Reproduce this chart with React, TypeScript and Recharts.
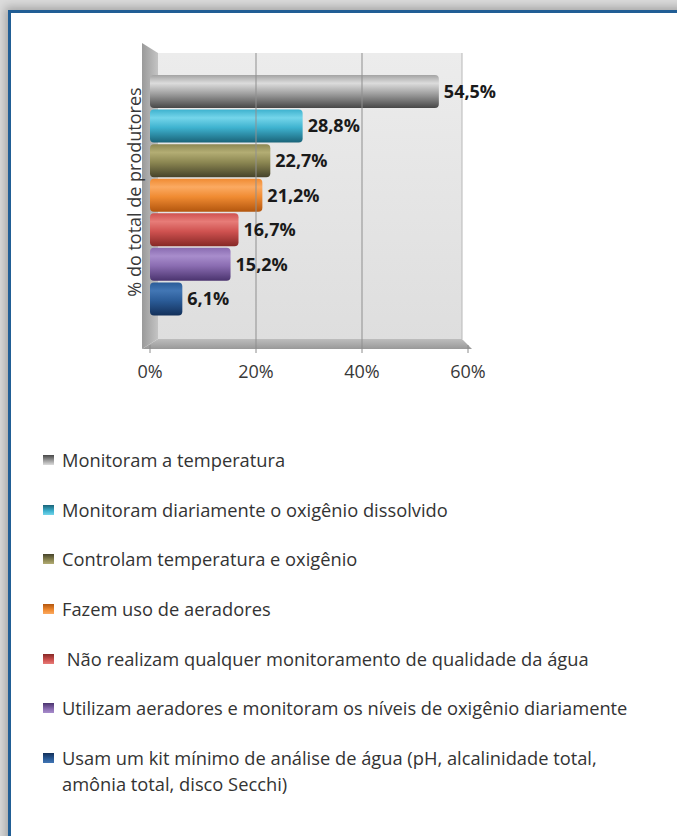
import React from "react";
import { BarChart, Bar, XAxis, YAxis, LabelList, Cell, ReferenceLine } from "recharts";

const categories = [
  "Monitoram a temperatura",
  "Monitoram diariamente o oxigênio dissolvido",
  "Controlam temperatura e oxigênio",
  "Fazem uso de aeradores",
  " Não realizam qualquer monitoramento de qualidade da água",
  "Utilizam aeradores e monitoram os níveis de oxigênio diariamente",
  "Usam um kit mínimo de análise de água (pH, alcalinidade total,\namônia total, disco Secchi)",
];
const values = [54.5, 28.8, 22.7, 21.2, 16.7, 15.2, 6.1];
const xTicks = [0, 20, 40, 60];
const gridValues = [20, 40];
const yAxisTitle = "% do total de produtores";

// [base, light, dark]
const palettes = [
  ["#a3a3a3", "#dcdcdc", "#474747"],
  ["#3eb2cf", "#74d5ea", "#1a6378"],
  ["#8c8752", "#b3ad74", "#46432a"],
  ["#f08b32", "#fbaa62", "#b3560e"],
  ["#cf5250", "#e77c78", "#862826"],
  ["#8a6cb1", "#a88dcc", "#4a336e"],
  ["#2b5c98", "#4276b4", "#13305a"],
];

const data = categories.map((name, i) => ({ name, value: values[i] }));

const FONT = "'Open Sans', 'DejaVu Sans', sans-serif";

const fmt = (v: number) => v.toFixed(1).replace(".", ",") + "%";

function Background() {
  return (
    <svg width={677} height={836} style={{ position: "absolute", left: 0, top: 0 }}>
      <defs>
        <linearGradient id="wallG" x1="0" y1="0" x2="0" y2="1">
          <stop offset="0" stopColor="#ececec" />
          <stop offset="1" stopColor="#dedede" />
        </linearGradient>
        <linearGradient id="sideG" x1="0" y1="0" x2="1" y2="0">
          <stop offset="0" stopColor="#9a9a9a" />
          <stop offset="1" stopColor="#c4c4c4" />
        </linearGradient>
        <linearGradient id="floorG" x1="0" y1="0" x2="0" y2="1">
          <stop offset="0" stopColor="#bdbdbd" />
          <stop offset="1" stopColor="#999999" />
        </linearGradient>
      </defs>
      <rect x={158} y={53} width={304} height={286} fill="url(#wallG)" />
      <line x1={462} y1={53} x2={462} y2={339} stroke="#b8b8b8" strokeWidth={1} />
      <polygon points="142,43 158,53 158,339 142,349" fill="url(#sideG)" />
      <polygon points="158,339 462,339 472,349 142,349" fill="url(#floorG)" />
      <text
        x={134}
        y={192}
        transform="rotate(-90 134 192)"
        textAnchor="middle"
        dominantBaseline="central"
        fontFamily={FONT}
        fontSize={18}
        fill="#383838"
      >
        {yAxisTitle}
      </text>
    </svg>
  );
}

function BarShape(props: any) {
  const { x, y, width, height, index } = props;
  if (!width || width <= 0) return null;
  const r = Math.min(4, width / 2);
  const d = `M${x + r},${y} L${x + width - r},${y} Q${x + width},${y} ${x + width},${y + r} L${x + width},${y + height - r} Q${x + width},${y + height} ${x + width - r},${y + height} L${x + r},${y + height} Q${x},${y + height} ${x},${y + height - r} L${x},${y + r} Q${x},${y} ${x + r},${y} Z`;
  return <path d={d} fill={`url(#barG${index})`} />;
}

function ChartLegend() {
  return (
    <div
      style={{
        position: "absolute",
        left: 43,
        top: 447,
        width: 600,
        fontFamily: FONT,
        fontSize: 18.3,
        color: "#333333",
      }}
    >
      {categories.map((c, i) => (
        <div key={i} style={{ display: "flex", alignItems: "flex-start", height: 49.7 }}>
          <div
            style={{
              width: 11,
              height: 10,
              marginTop: 8,
              marginRight: 8,
              flex: "none",
              background: `linear-gradient(to bottom, ${palettes[i][2]}, ${palettes[i][0]} 60%, ${palettes[i][1]})`,
            }}
          />
          <div style={{ lineHeight: "26px", whiteSpace: "pre", overflow: "hidden", width: 576 }}>{c}</div>
        </div>
      ))}
    </div>
  );
}

export default function App() {
  return (
    <div
      style={{
        position: "absolute",
        left: 0,
        top: 0,
        width: 677,
        height: 836,
        overflow: "hidden",
        background: "#dcdcdc",
      }}
    >
      <div
        style={{
          position: "absolute",
          left: 8,
          top: 10,
          width: 800,
          height: 1000,
          border: "3px solid #215e95",
          background: "#ffffff",
          boxShadow: "0 0 9px 3px rgba(0,0,0,0.25)",
        }}
      />
      <Background />
      <div style={{ position: "absolute", left: 0, top: 0 }}>
        <BarChart
          width={677}
          height={836}
          data={data}
          layout="vertical"
          margin={{ top: 53, right: 209, bottom: 461, left: 150 }}
          barSize={33}
        >
          <defs>
            {palettes.map((p, i) => (
              <linearGradient key={i} id={`barG${i}`} x1="0" y1="0" x2="0" y2="1">
                <stop offset="0" stopColor={p[0]} />
                <stop offset="0.25" stopColor={p[1]} />
                <stop offset="0.55" stopColor={p[0]} />
                <stop offset="1" stopColor={p[2]} />
              </linearGradient>
            ))}
          </defs>
          <XAxis
            type="number"
            domain={[0, 60]}
            ticks={xTicks}
            tickFormatter={(v: number) => `${v}%`}
            axisLine={false}
            tickLine={{ stroke: "#8c8c8c" }}
            tickSize={8}
            tickMargin={12}
            height={30}
            interval={0}
            tick={{ fill: "#383838", fontSize: 18, fontFamily: FONT }}
          />
          <YAxis type="category" dataKey="name" hide padding={{ top: 21, bottom: 29 }} />
          {gridValues.map((g) => (
            <ReferenceLine key={g} x={g} stroke="#8f8f8f" strokeWidth={1} />
          ))}
          <Bar dataKey="value" isAnimationActive={false} shape={<BarShape />}>
            {data.map((_, i) => (
              <Cell key={i} fill={`url(#barG${i})`} />
            ))}
            <LabelList
              dataKey="value"
              position="right"
              offset={5}
              formatter={(v: any) => fmt(Number(v))}
              style={{ fontFamily: FONT, fontWeight: 700, fontSize: 18, fill: "#1a1a1a" }}
            />
          </Bar>
        </BarChart>
      </div>
      <ChartLegend />
    </div>
  );
}
